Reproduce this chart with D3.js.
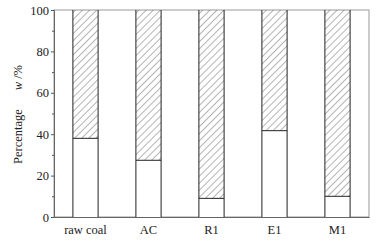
<!DOCTYPE html>
<html><head><meta charset="utf-8">
<script src="https://cdn.jsdelivr.net/npm/d3@7"></script>
<style>body{margin:0;background:#fff;}svg{display:block;}</style>
</head><body>
<script>
const categories = ["raw coal", "AC", "R1", "E1", "M1"];
const lowerValues = [38.0, 27.4, 9.0, 41.7, 10.0];
const yTicks = [0, 20, 40, 60, 80, 100];
const yMinorTicks = [10, 30, 50, 70, 90];

const W = 382, H = 244;
const m = {l: 54, r: 13, t: 10, b: 27};
const svg = d3.select("body").append("svg").attr("width", W).attr("height", H);
const font = "'Liberation Serif', 'Times New Roman', serif";
const fs = 12.5;

const defs = svg.append("defs");
const pat = defs.append("pattern").attr("id", "hatch").attr("patternUnits", "userSpaceOnUse")
  .attr("width", 5).attr("height", 5).attr("patternTransform", "rotate(45)");
pat.append("line").attr("x1", 0).attr("y1", 0).attr("x2", 0).attr("y2", 5)
  .attr("stroke", "#444").attr("stroke-width", 0.8);

const x = d3.scaleBand().domain(categories).range([m.l, W - m.r]).paddingInner(0.6).paddingOuter(0.3);
const y = d3.scaleLinear().domain([0, 100]).range([H - m.b, m.t]);

// frame
svg.append("rect").attr("x", m.l).attr("y", m.t).attr("width", W - m.r - m.l).attr("height", H - m.b - m.t)
  .attr("fill", "none").attr("stroke", "#999").attr("stroke-width", 1);

// bars
const g = svg.append("g");
categories.forEach((c, i) => {
  const v = lowerValues[i];
  g.append("rect").attr("x", x(c)).attr("y", y(100)).attr("width", x.bandwidth()).attr("height", y(v) - y(100))
    .attr("fill", "url(#hatch)").attr("stroke", "none");
  g.append("rect").attr("x", x(c)).attr("y", y(v)).attr("width", x.bandwidth()).attr("height", y(0) - y(v))
    .attr("fill", "#fff").attr("stroke", "none");
  g.append("line").attr("x1", x(c)).attr("x2", x(c) + x.bandwidth()).attr("y1", y(v)).attr("y2", y(v))
    .attr("stroke", "#222").attr("stroke-width", 1);
  [x(c), x(c) + x.bandwidth()].forEach(xx => {
    g.append("line").attr("x1", xx).attr("x2", xx).attr("y1", y(0)).attr("y2", y(100))
      .attr("stroke", "#222").attr("stroke-width", 1);
  });
});

// y axis
const yAxis = svg.append("g").attr("transform", `translate(${m.l},0)`)
  .call(d3.axisLeft(y).tickValues(yTicks).tickSize(3).tickPadding(2));
svg.append("g").attr("transform", `translate(${m.l},0)`)
  .call(d3.axisLeft(y).tickValues(yMinorTicks).tickSize(2).tickFormat(""))
  .call(s => s.select(".domain").remove());
svg.selectAll(".tick line").attr("stroke", "#555");
yAxis.select(".domain").attr("stroke", "#666");
yAxis.selectAll("text").attr("font-family", font).attr("font-size", fs).attr("fill", "#222");

// x axis
const xAxis = svg.append("g").attr("transform", `translate(0,${H - m.b})`)
  .call(d3.axisBottom(x).tickSize(0).tickPadding(8));
xAxis.select(".domain").attr("stroke", "#666");
xAxis.selectAll("text").attr("font-family", font).attr("font-size", fs).attr("fill", "#222");

// y label
const yl = svg.append("text").attr("transform", `translate(22,${(m.t + H - m.b) / 2 + 1}) rotate(-90)`)
  .attr("text-anchor", "middle").attr("font-family", font).attr("font-size", fs).attr("fill", "#222");
yl.append("tspan").text("Percentage");
yl.append("tspan").attr("dx", 19).attr("font-style", "italic").text("w");
yl.append("tspan").attr("dx", 3).text("/%");
</script>
</body></html>
